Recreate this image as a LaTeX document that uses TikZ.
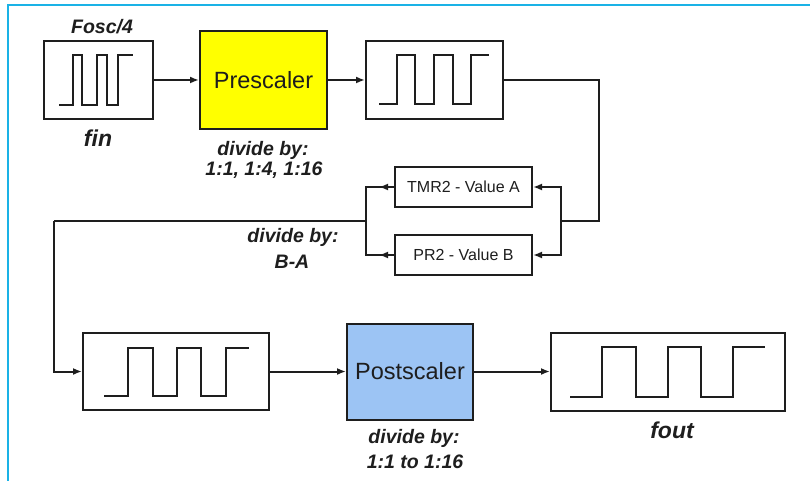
\documentclass[tikz,border=0pt]{standalone}
\usepackage{fontspec}
\setmainfont{Liberation Sans}
\usetikzlibrary{arrows.meta}
\definecolor{frameblue}{HTML}{1AB2E6}
\definecolor{preyellow}{HTML}{FFFF00}
\definecolor{postblue}{HTML}{9CC4F4}
\definecolor{ink}{HTML}{1E1E1E}
\begin{document}
\begin{tikzpicture}[x=1pt,y=-1pt,
  wire/.style={line width=2pt,draw=ink},
  arr/.style={wire,-{Latex[length=9pt,width=7pt]}},
  sigbox/.style={draw=ink,line width=2pt,fill=white,inner sep=0pt},
  bigbox/.style={draw=ink,line width=2pt,inner sep=0pt,font=\fontsize{23.5}{26}\selectfont,text=ink},
  valbox/.style={draw=ink,line width=2pt,fill=white,inner sep=0pt,minimum width=137pt,minimum height=40pt,font=\fontsize{16}{18}\selectfont,text=ink},
  lbl/.style={font=\fontsize{19.5}{22}\selectfont\bfseries\itshape,text=ink,inner sep=0pt},
  biglbl/.style={font=\fontsize{23}{25}\selectfont\bfseries\itshape,text=ink,inner sep=0pt},
  wave/.style={line width=2pt,draw=ink}]
\useasboundingbox (0,0) rectangle (810,481);
\fill[white] (0,0) rectangle (810,481);
\draw[frameblue,line width=2.2pt] (8,481) -- (8,5) -- (810,5);

% boxes
\node[sigbox,minimum width=109pt,minimum height=78pt] (fin) at (98.5,80) {};
\node[bigbox,fill=preyellow,minimum width=127pt,minimum height=98pt] (pre) at (263.5,80) {Prescaler};
\node[sigbox,minimum width=137pt,minimum height=78pt] (mid) at (434.5,80) {};
\node[valbox] (tmr) at (463.5,187) {TMR2 - Value A};
\node[valbox] (pr) at (463.5,255) {PR2 - Value B};
\node[sigbox,minimum width=186pt,minimum height=77pt] (sig4) at (176,371.5) {};
\node[bigbox,fill=postblue,minimum width=126pt,minimum height=96pt] (post) at (410,371.5) {Postscaler};
\node[sigbox,minimum width=234pt,minimum height=78pt] (fout) at (668,371.5) {};

% waveforms
\draw[wave] (59,105) -- (73,105) -- (73,55) -- (82,55) -- (82,105) -- (97,105) -- (97,55) -- (107,55) -- (107,105) -- (118,105) -- (118,55) -- (133,55);
\draw[wave] (379,104) -- (397,104) -- (397,55) -- (415,55) -- (415,104) -- (434,104) -- (434,55) -- (453,55) -- (453,104) -- (471,104) -- (471,55) -- (489,55);
\draw[wave] (104,396) -- (128,396) -- (128,348) -- (153,348) -- (153,396) -- (177,396) -- (177,348) -- (201,348) -- (201,396) -- (226,396) -- (226,348) -- (249,348);
\draw[wave] (570,397) -- (602,397) -- (602,347) -- (636,347) -- (636,397) -- (668,397) -- (668,347) -- (701,347) -- (701,397) -- (733,397) -- (733,347) -- (765,347);

% labels
\node[lbl] (fosc) at (102,27) {Fosc/4};
\node[biglbl] (finl) at (98,138) {fin};
\node[lbl] (pred1) at (263,150) {divide by:};
\node[lbl] (pred2) at (264,170) {1:1, 1:4, 1:16};
\node[lbl] (bad1) at (293,237) {divide by:};
\node[lbl] (bad2) at (292,262) {B-A};
\node[lbl] (postd1) at (414,438) {divide by:};
\node[lbl] (postd2) at (415,462) {1:1 to 1:16};
\node[biglbl] (foutl) at (672,430) {fout};

% connectors
\coordinate (rj) at (561,221);
\coordinate (lj) at (366,221);
\coordinate (rturn) at (599,221);
\coordinate (lturn) at (54,221);
\draw[arr] (fin.east) -- (pre.west);
\draw[arr] (pre.east) -- (mid.west);
\draw[wire] (mid.east) -| (rturn) -- (rj);
\draw[arr] (rj) |- (tmr.east);
\draw[arr] (rj) |- (pr.east);
\draw[wire] (tmr.west) -| (lj);
\draw[wire] (pr.west) -| (lj);
\draw[arr] (tmr.west) -- ++(-15,0);
\draw[arr] (pr.west) -- ++(-15,0);
\draw[wire] (lj) -- (lturn);
\draw[arr] (lturn) |- (sig4.west);
\draw[arr] (sig4.east) -- (post.west);
\draw[arr] (post.east) -- (fout.west);
\end{tikzpicture}
\end{document}
